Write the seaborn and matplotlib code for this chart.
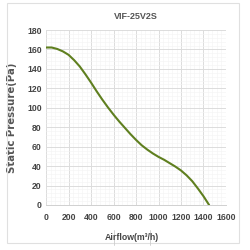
import matplotlib
matplotlib.use("Agg")
import matplotlib.pyplot as plt
import seaborn as sns
import pandas as pd
from matplotlib.ticker import MultipleLocator
from matplotlib.patches import Rectangle
from matplotlib.lines import Line2D

airflow = [0, 50, 100, 150, 200, 250, 300, 350, 400, 450, 500, 550, 600, 650, 700,
           750, 800, 850, 900, 950, 1000, 1050, 1100, 1150, 1200, 1250, 1300, 1350, 1400, 1450]
pressure = [162, 162, 160.5, 158, 154.5, 149, 142.5, 134.5, 126, 117, 108.5, 100.5, 93, 86, 79.5,
            73, 67, 61.5, 57, 53, 49.5, 46.5, 43, 39.5, 35.5, 30.5, 24.5, 17, 9, 0]
x_ticks = [0, 200, 400, 600, 800, 1000, 1200, 1400, 1600]
y_ticks = [0, 20, 40, 60, 80, 100, 120, 140, 160, 180]

sns.set_theme(style="white")
plt.rcParams['font.family'] = ['Liberation Sans Narrow', 'Liberation Sans', 'DejaVu Sans']

df = pd.DataFrame({"Airflow": airflow, "Pressure": pressure})

fig = plt.figure(figsize=(2.5, 2.5), dpi=100)
ax = fig.add_axes([0.184, 0.18, 0.72, 0.70])

sns.lineplot(data=df, x="Airflow", y="Pressure", ax=ax, color="#5f7f1f", linewidth=1.5)

ax.set_xlim(0, 1600)
ax.set_ylim(0, 180)
ax.set_xticks(x_ticks)
ax.set_yticks(y_ticks)
ax.xaxis.set_minor_locator(MultipleLocator(40))
ax.yaxis.set_minor_locator(MultipleLocator(4))
ax.grid(which="major", color="#dcdcdc", linewidth=0.7)
ax.grid(which="minor", color="#f3f3f3", linewidth=0.4)
ax.set_axisbelow(True)
for s in ["top", "right", "left"]:
    ax.spines[s].set_visible(False)
ax.spines["bottom"].set_color("#d0d0d0")
ax.spines["bottom"].set_linewidth(0.7)
ax.tick_params(axis="both", which="both", length=0, labelsize=6.2, labelcolor="#444444", pad=3)
ax.tick_params(axis="x", pad=6)
for lbl in ax.get_xticklabels() + ax.get_yticklabels():
    lbl.set_fontweight("bold")

ax.set_xlabel("")
ax.set_ylabel("Static Pressure(Pa)", fontsize=7.3, fontweight="bold", color="#555555",
              family=['DejaVu Sans'], labelpad=7)
ax.set_title("VIF-25V2S", fontsize=6.5, color="#555555", pad=8, fontweight="bold")

fig.text(0.528, 0.048, "Airflow(m³/h)", fontsize=6.3, color="#444444", ha="center",
         va="center", fontweight="bold")
fig.add_artist(Line2D([0.454, 0.454], [0.02, 0.08], color="#cccccc", linewidth=0.6))
fig.add_artist(Line2D([0.60, 0.60], [0.02, 0.08], color="#cccccc", linewidth=0.6))

fig.add_artist(Rectangle((0.028, 0.028), 0.928, 0.96, transform=fig.transFigure,
                         fill=False, edgecolor="#e0e0e0", linewidth=0.8))

fig.savefig("out.png", dpi=100)
